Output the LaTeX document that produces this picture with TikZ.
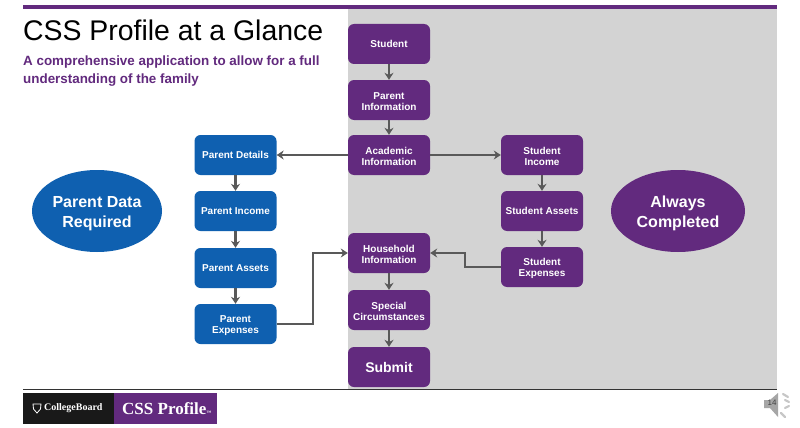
\documentclass[tikz,border=0pt]{standalone}
\usepackage{fontspec}
\setmainfont{Liberation Sans}
\newfontfamily\serifb{Liberation Serif}
\usetikzlibrary{arrows.meta,shapes.geometric}
\definecolor{cbpurple}{HTML}{622A7E}
\definecolor{cbblue}{HTML}{0F60B0}
\definecolor{panelgray}{HTML}{D3D3D3}
\definecolor{linkgray}{HTML}{595959}
\newcommand{\boxlift}{\rule{0pt}{10pt}}
\newcommand{\ovallift}{\rule{0pt}{17pt}}
\tikzset{
 boxbase/.style={rounded corners=6pt,minimum width=82pt,minimum height=40pt,inner sep=1pt,align=center,text=white,font=\fontsize{10}{11.8}\selectfont\bfseries},
 pbox/.style={boxbase,fill=cbpurple},
 bbox/.style={boxbase,fill=cbblue},
 link/.style={draw=linkgray,line width=2.3pt,-{Stealth[length=7pt,width=9pt]}},
 oval/.style={ellipse,text=white,inner sep=0pt,align=center,minimum height=82pt,font=\fontsize{16}{20}\selectfont\bfseries}
}
\begin{document}
\begin{tikzpicture}[x=1pt,y=-1pt]
\useasboundingbox (0,0) rectangle (800,428);
\fill[white] (0,0) rectangle (800,428);
\fill[panelgray] (348,9) rectangle (777,389);
\fill[cbpurple] (23,5) rectangle (777,9);
\draw[black!80,line width=1pt] (23,389.5) -- (777,389.5);

\node[anchor=base west,inner sep=0pt,font=\fontsize{28.4}{30}\selectfont] (title) at (23,41) {CSS Profile at a Glance};
\node[anchor=base west,inner sep=0pt,text=cbpurple,align=left,font=\fontsize{13.4}{18}\selectfont\bfseries] (sub) at (23,84) {A comprehensive application to allow for a full\\understanding of the family};

\node[pbox] (student) at (389,44) {Student};
\node[pbox] (parentinfo) at (389,100) {\boxlift Parent\\Information};
\node[pbox] (academic) at (389,155) {\boxlift Academic\\Information};
\node[pbox] (household) at (389,253) {\boxlift Household\\Information};
\node[pbox] (special) at (389,310) {\boxlift Special\\Circumstances};
\node[pbox,font=\fontsize{14}{16}\selectfont\bfseries] (submit) at (389,367) {Submit};

\node[pbox] (sincome) at (542,155) {\boxlift Student\\Income};
\node[pbox] (sassets) at (542,211) {Student Assets};
\node[pbox] (sexpenses) at (542,267) {\boxlift Student\\Expenses};

\node[bbox] (pdetails) at (235.5,155) {Parent Details};
\node[bbox] (pincome) at (235.5,211) {Parent Income};
\node[bbox] (passets) at (235.5,268) {Parent Assets};
\node[bbox] (pexpenses) at (235.5,324) {\boxlift Parent\\Expenses};

\node[oval,fill=cbblue,minimum width=130pt] (pdata) at (97,211) {\ovallift Parent Data\\Required};
\node[oval,fill=cbpurple,minimum width=134pt] (always) at (678,211) {\ovallift Always\\Completed};

\draw[link] (student) -- (parentinfo);
\draw[link] (parentinfo) -- (academic);
\draw[link] (academic) -- (pdetails);
\draw[link] (academic) -- (sincome);
\draw[link] (pdetails) -- (pincome);
\draw[link] (pincome) -- (passets);
\draw[link] (passets) -- (pexpenses);
\draw[link] (sincome) -- (sassets);
\draw[link] (sassets) -- (sexpenses);
\draw[link] (sexpenses.west) -- (465,267) -- (465,253) -- (household.east);
\draw[link] (pexpenses.east) -- (313,324) -- (313,253) -- (household.west);
\draw[link] (household) -- (special);
\draw[link] (special) -- (submit);

% footer logo
\fill[black!90] (23,393) rectangle (114,423.5);
\fill[cbpurple] (114,393) rectangle (216.5,423.5);
\node[anchor=west,inner sep=0pt,text=white,font=\serifb\fontsize{10}{12}\selectfont\bfseries] (cb) at (44,408.5) {CollegeBoard};
\draw[white,line width=.8pt] (33,404) -- (41,404) -- (40.5,409) -- (37,413) -- (33.5,409) -- cycle;
\node[anchor=west,inner sep=0pt,text=white,font=\serifb\fontsize{17}{19}\selectfont\bfseries] (css) at (122,408.5) {CSS Profile{\fontsize{5}{5}\selectfont ™}};

% speaker icon
\fill[black!35] (764,400) -- (770,400) -- (778,393) -- (778,417) -- (770,408) -- (764,408) -- cycle;
\node[inner sep=0pt,text=black!75,font=\fontsize{8}{9}\selectfont] (pagenum) at (772,403) {14};
\draw[black!22,line width=2.2pt,line cap=round] (783,394) -- (788,397) (785,400) -- (789,402) (785,408) -- (789,406) (781,413) -- (785,417);
\end{tikzpicture}
\end{document}
